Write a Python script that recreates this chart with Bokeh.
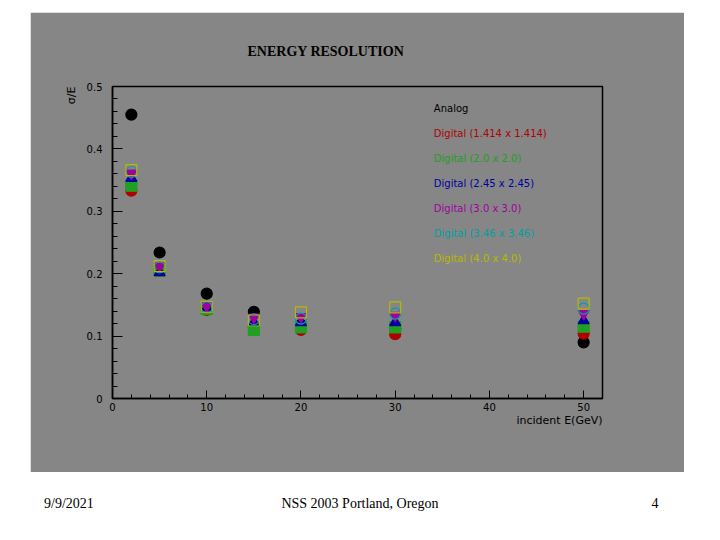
from bokeh.plotting import figure
from bokeh.models import Range1d, SingleIntervalTicker, Title, ColumnDataSource, Div
from bokeh.layouts import column
from bokeh.embed import file_html
from bokeh.resources import INLINE
from bokeh.core.properties import value

# ---------------- data ----------------
energy = [2, 5, 10, 15, 20, 30, 50]
analog = [0.455, 0.234, 0.168, 0.139, 0.118, 0.112, 0.090]
digital_1414 = [0.333, 0.205, 0.142, 0.115, 0.110, 0.103, 0.104]
digital_20 = [0.341, 0.205, 0.143, 0.110, 0.114, 0.114, 0.115]
digital_245 = [0.353, 0.202, 0.145, 0.122, 0.122, 0.122, 0.125]
digital_30 = [0.361, 0.212, 0.148, 0.130, 0.131, 0.133, 0.136]
digital_346 = [0.363, 0.210, 0.146, 0.127, 0.128, 0.136, 0.144]
digital_40 = [0.366, 0.212, 0.147, 0.125, 0.138, 0.146, 0.152]

series_labels = ["Analog", "Digital (1.414 x 1.414)", "Digital (2.0 x 2.0)",
                 "Digital (2.45 x 2.45)", "Digital (3.0 x 3.0)",
                 "Digital (3.46 x 3.46)", "Digital (4.0 x 4.0)"]
series_values = [analog, digital_1414, digital_20, digital_245, digital_30,
                 digital_346, digital_40]
series_colors = ["#000000", "#b00000", "#20a020", "#0000a0", "#a000a0",
                 "#00a0a0", "#b8b800"]
series_markers = ["circle", "circle", "square", "triangle", "inverted_triangle",
                  "circle", "square"]
series_filled = [True, True, True, True, True, False, False]

footer_left = "9/9/2021"
footer_center = "NSS 2003 Portland, Oregon"
footer_right = "4"

GRAY = "#868686"

# ---------------- main plot ----------------
p = figure(width=654, height=460, x_range=Range1d(0, 52), y_range=Range1d(0, 0.5),
           output_backend="svg", toolbar_location=None,
           min_border_left=82, min_border_right=82, min_border_top=74, min_border_bottom=74,
           background_fill_color=GRAY, border_fill_color=GRAY)
p.margin = (12, 0, 0, 30)
p.grid.visible = False
p.outline_line_color = "black"
p.outline_line_width = 1.5

p.title = Title(text="ENERGY RESOLUTION", align="left", offset=135, standoff=55,
                text_font="Liberation Serif", text_font_size="14px",
                text_font_style="bold", text_color="black")

p.xaxis.ticker = SingleIntervalTicker(interval=10, num_minor_ticks=5)
p.yaxis.ticker = SingleIntervalTicker(interval=0.1, num_minor_ticks=5)
for ax in (p.xaxis, p.yaxis):
    ax.axis_line_color = "black"
    ax.axis_line_width = 1.5
    ax.major_tick_line_color = "black"
    ax.minor_tick_line_color = "black"
    ax.major_tick_out = 0
    ax.minor_tick_out = 0
    ax.major_label_text_font = "DejaVu Sans"
    ax.major_label_text_font_size = "10px"
    ax.major_label_text_color = "black"
p.xaxis.major_tick_in = 8
p.xaxis.minor_tick_in = 4
p.yaxis.major_tick_in = 10
p.yaxis.minor_tick_in = 5
p.xaxis.major_label_standoff = 4
p.yaxis.major_label_standoff = 10

p.add_layout(Title(text="σ/E", align="right", standoff=12, text_font="DejaVu Sans",
                   text_font_size="11px", text_font_style="normal",
                   text_color="black"), "left")
p.add_layout(Title(text="incident E(GeV)", align="right", standoff=-4,
                   text_font="DejaVu Sans", text_font_size="11px",
                   text_font_style="normal", text_color="black"), "below")

for vals, col, mk, filled in zip(series_values, series_colors, series_markers, series_filled):
    p.scatter(energy, vals, marker=mk, size=11,
              fill_color=col if filled else None, line_color=col, line_width=1.2)

# text-only legend
legend_x = 34.1
legend_top = 0.465
legend_step = 0.04
leg_src = ColumnDataSource(dict(
    x=[legend_x] * len(series_labels),
    y=[legend_top - i * legend_step for i in range(len(series_labels))],
    text=series_labels,
    color=series_colors,
))
p.text(x="x", y="y", text="text", text_color="color", source=leg_src,
       text_font=value("DejaVu Sans"), text_font_size="10px",
       text_baseline="middle", text_align="left")

# ---------------- footer ----------------
span = "position:absolute;top:24px;white-space:nowrap;line-height:16px;"
footer_html = (
    '<div style="position:relative;width:720px;height:60px;'
    "font-family:'Liberation Serif';font-size:14px;color:black;\">"
    f'<span style="{span}left:44px;">{footer_left}</span>'
    f'<span style="{span}left:360px;transform:translateX(-50%);">{footer_center}</span>'
    f'<span style="{span}left:655px;transform:translateX(-50%);">{footer_right}</span>'
    "</div>"
)
footer = Div(text=footer_html, width=720, height=60, margin=(0, 0, 0, 0))

layout = column(p, footer, spacing=0)
open("out.html", "w").write(file_html(layout, INLINE))
